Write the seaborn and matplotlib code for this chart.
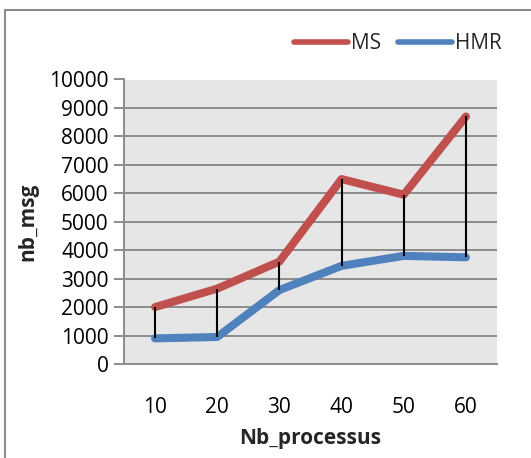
import matplotlib
matplotlib.use("Agg")
import matplotlib.pyplot as plt
from matplotlib.patches import Rectangle
import seaborn as sns
import pandas as pd

# Number of processes and message counts for each algorithm
processes = ["10", "20", "30", "40", "50", "60"]
ms_msgs = [2000, 2650, 3600, 6500, 5950, 8700]
hmr_msgs = [900, 950, 2600, 3450, 3800, 3750]
series_names = ["MS", "HMR"]
y_ticks = [0, 1000, 2000, 3000, 4000, 5000, 6000, 7000, 8000, 9000, 10000]

df = pd.DataFrame({
    "Nb_processus": processes * 2,
    "nb_msg": ms_msgs + hmr_msgs,
    "serie": [series_names[0]] * len(processes) + [series_names[1]] * len(processes),
})

sns.set_theme(style="white")
plt.rcParams["font.family"] = ["Open Sans", "DejaVu Sans"]

FS = 15

fig = plt.figure(figsize=(5.31, 4.58), dpi=100)
ax = fig.add_axes([124 / 531, 1 - 364 / 458, (497 - 124) / 531, (364 - 79.5) / 458])

ax.set_facecolor("#E6E6E6")
palette = {"MS": "#C0504D", "HMR": "#4F81BD"}

sns.lineplot(data=df, x="Nb_processus", y="nb_msg", hue="serie", palette=palette,
             linewidth=5.8, sort=False, ax=ax, solid_capstyle="round",
             solid_joinstyle="round")

# High-low lines joining both series at each category
ax.vlines(range(len(processes)), hmr_msgs, ms_msgs, colors="black", linewidth=1.5, zorder=3)

ax.set_xlim(-0.5, len(processes) - 0.5)
ax.set_ylim(0, 10000)
ax.set_yticks(y_ticks)
ax.yaxis.grid(True, color="#8C8C8C", linewidth=1.4)
ax.xaxis.grid(False)
ax.set_axisbelow(True)

for side in ["top", "right"]:
    ax.spines[side].set_visible(False)
ax.spines["left"].set_color("#8C8C8C")
ax.spines["left"].set_linewidth(1.4)
ax.spines["bottom"].set_color("#8C8C8C")
ax.spines["bottom"].set_linewidth(1.4)

ax.tick_params(axis="y", direction="out", length=7, width=1.4, color="#8C8C8C",
               labelsize=FS, pad=4, left=True)
ax.tick_params(axis="x", length=0, labelsize=FS, pad=24)
for lbl in ax.get_yticklabels() + ax.get_xticklabels():
    lbl.set_color("black")

ax.set_xlabel("Nb_processus", fontsize=FS, fontweight="bold", labelpad=7)
ax.set_ylabel("nb_msg", fontsize=FS, fontweight="bold")
ax.yaxis.set_label_coords(-0.23, 0.5)

leg = ax.legend(loc="lower right", bbox_to_anchor=(1.035, 1.06), ncol=2, frameon=False,
                fontsize=FS, handlelength=2.6, handletextpad=0.15, columnspacing=0.8,
                borderaxespad=0)
for h in leg.get_lines():
    h.set_linewidth(4)
    h.set_solid_capstyle("round")
leg.set_title(None)

# Chart frame
fig.patches.append(Rectangle((5 / 531, -0.1), 1.2, 1 - 10 / 458 + 0.1,
                             transform=fig.transFigure, fill=False,
                             edgecolor="#8C8C8C", linewidth=1.5))

fig.savefig("out.png", dpi=100, facecolor="white")
